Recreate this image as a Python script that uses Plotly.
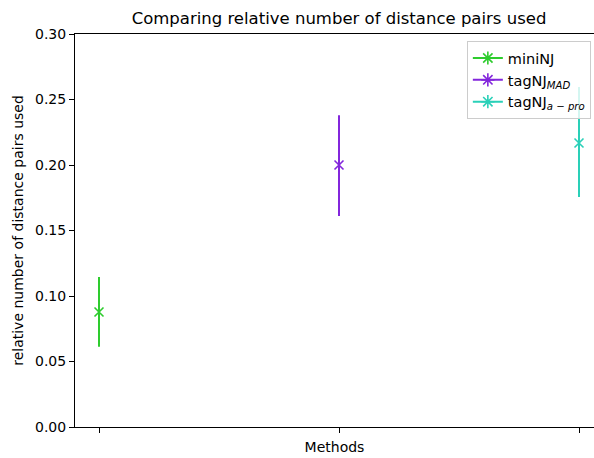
import plotly.graph_objects as go

# Mean fraction of distance pairs used, with lower/upper spread per method
methods = ["miniNJ", "tagNJ<sub><i>MAD</i></sub>", "tagNJ<sub><i>a − pro</i></sub>"]
positions = [0, 1, 2]
means = [0.0878, 0.2000, 0.2168]
upper = [0.1145, 0.2380, 0.2595]
lower = [0.0612, 0.1610, 0.1756]
colors = ["#2ecc2e", "#8326dc", "#2ad0b8"]
y_ticks = [0.00, 0.05, 0.10, 0.15, 0.20, 0.25, 0.30]

FONT = "DejaVu Sans"

fig = go.Figure()
for name, x, m, hi, lo, c in zip(methods, positions, means, upper, lower, colors):
    fig.add_trace(go.Scatter(
        x=[x], y=[m], mode="markers", name=name, showlegend=False,
        marker=dict(symbol="x-thin-open", size=9, color=c, line=dict(width=1.6, color=c)),
        error_y=dict(type="data", symmetric=False, array=[hi - m], arrayminus=[m - lo],
                     color=c, thickness=2, width=0),
    ))
    # legend handle: line with star marker
    fig.add_trace(go.Scatter(
        x=[None], y=[None], mode="lines+markers", name=name,
        line=dict(color=c, width=2),
        marker=dict(symbol="asterisk-open", size=11, color=c, line=dict(width=1.6, color=c)),
    ))

fig.update_layout(
    template="none",
    width=594, height=458,
    margin=dict(l=75, r=0, t=34, b=31),
    paper_bgcolor="white", plot_bgcolor="white",
    font=dict(family=FONT, size=14, color="black"),
    title=dict(text="Comparing relative number of distance pairs used",
               x=(339 / 594), xanchor="center", y=1 - 18 / 458, yanchor="middle",
               font=dict(size=16.5, family=FONT, color="black")),
    xaxis=dict(range=[-0.1, 2.0625], tickvals=positions, showticklabels=False,
               ticks="outside", ticklen=5, tickcolor="black", showgrid=False, zeroline=False,
               showline=True, linecolor="black", linewidth=1, mirror=True,
               title=dict(text="Methods", standoff=10, font=dict(size=14, color="black"))),
    yaxis=dict(range=[0, 0.30], tickvals=y_ticks, tickformat=".2f",
               ticks="outside", ticklen=5, tickcolor="black", showgrid=False, zeroline=False,
               showline=True, linecolor="black", linewidth=1, mirror=False,
               tickfont=dict(size=14, color="black"),
               title=dict(text="relative number of distance pairs used", standoff=8,
                          font=dict(size=14, color="black"))),
    legend=dict(x=0.755, y=0.982, xanchor="left", yanchor="top",
                bgcolor="rgba(255,255,255,0.8)", bordercolor="#cccccc", borderwidth=1,
                font=dict(size=14.5, family=FONT, color="black"), tracegroupgap=0,
                itemwidth=30),
    showlegend=True,
)

fig.write_html("out.html")
